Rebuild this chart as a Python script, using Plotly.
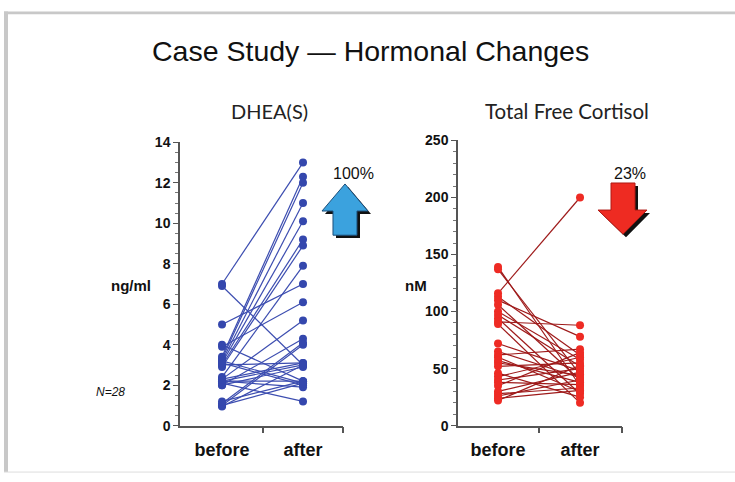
import plotly.graph_objects as go

# ---------------- data ----------------
categories = ["before", "after"]

dhea_before = [7.0, 6.9, 5.0, 4.0, 3.9, 3.4, 3.3, 3.2, 3.1, 3.0, 3.0, 2.9, 3.2, 3.1,
               2.4, 2.3, 2.2, 2.2, 2.1, 2.0, 2.2, 2.0, 2.3, 1.1, 1.0, 1.0, 0.95, 1.2]
dhea_after = [13.0, 3.0, 7.0, 2.2, 6.1, 12.3, 12.0, 11.0, 10.1, 9.2, 3.1, 8.9, 2.1, 2.0,
              7.9, 5.2, 3.0, 2.2, 1.2, 4.3, 1.9, 2.9, 3.1, 4.1, 4.0, 2.1, 3.0, 2.2]

cort_before = [139, 137, 116, 113, 110, 106, 100, 97, 94, 91, 89, 72, 65, 62,
               60, 57, 55, 52, 46, 43, 40, 38, 35, 30, 28, 26, 24, 22]
cort_after = [35, 45, 200, 62, 78, 40, 58, 52, 28, 88, 20, 48, 42, 67,
              30, 38, 44, 55, 25, 60, 50, 36, 64, 47, 33, 40, 31, 53]

dhea_ticks = [0, 2, 4, 6, 8, 10, 12, 14]
cort_ticks = [0, 50, 100, 150, 200, 250]

W, H = 735, 482


def px(x):
    return x / W


def py(y):
    return 1 - y / H


fig = go.Figure()


def add_pairs(before, after, xa, ya, line_color, marker_color):
    xs, ys = [], []
    for b, a in zip(before, after):
        xs += [0, 1, None]
        ys += [b, a, None]
    fig.add_trace(go.Scatter(x=xs, y=ys, mode="lines",
                             line=dict(color=line_color, width=1.2),
                             xaxis=xa, yaxis=ya, hoverinfo="skip", showlegend=False))
    fig.add_trace(go.Scatter(x=[0] * len(before) + [1] * len(after), y=before + after,
                             mode="markers", marker=dict(color=marker_color, size=8),
                             xaxis=xa, yaxis=ya, showlegend=False))


add_pairs(dhea_before, dhea_after, "x", "y", "#3c4db0", "#3447ad")
add_pairs(cort_before, cort_after, "x2", "y2", "#9e1a1a", "#ee2b24")

axis_font = dict(family="Liberation Sans, Arial, sans-serif", size=14, color="#111")
cat_font = dict(family="Liberation Sans, Arial, sans-serif", size=18, color="#111")


def xaxis_cfg(domain, rng):
    return dict(domain=domain, range=rng, showgrid=False, zeroline=False,
                showline=True, linecolor="#555", linewidth=1.5,
                tickmode="array", tickvals=[0, 1], ticktext=["<b>%s</b>" % c for c in categories],
                ticks="", tickfont=cat_font, ticklabelstandoff=7,
                minor=dict(tickmode="array", tickvals=[0.5, rng[1]], ticks="outside",
                           ticklen=6, tickcolor="#555", tickwidth=1.5),
                fixedrange=True)


def yaxis_cfg(domain, rng, ticks, minor_dtick, anchor):
    return dict(domain=domain, range=rng, anchor=anchor, showgrid=False, zeroline=False,
                showline=True, linecolor="#555", linewidth=1.5,
                tickmode="array", tickvals=ticks, ticktext=["<b>%d</b>" % t for t in ticks],
                ticks="outside", ticklen=5, tickcolor="#555", tickwidth=1.3,
                tickfont=axis_font,
                minor=dict(dtick=minor_dtick, tick0=0, ticks="outside", ticklen=3,
                           tickcolor="#777", tickwidth=1),
                fixedrange=True)


fig.update_layout(
    width=W, height=H,
    margin=dict(l=0, r=0, t=0, b=0),
    paper_bgcolor="white", plot_bgcolor="white",
    showlegend=False,
    xaxis=xaxis_cfg([px(180), px(343)], [-0.519, 1.494]) | dict(anchor="y"),
    yaxis=yaxis_cfg([py(432), py(139)], [0, 14], dhea_ticks, 0.5, "x"),
    xaxis2=xaxis_cfg([px(458), px(622)], [-0.488, 1.512]) | dict(anchor="y2"),
    yaxis2=yaxis_cfg([py(432), py(137)], [0, 250], cort_ticks, 10, "x2"),
)

shapes = []
# frame
shapes.append(dict(type="rect", xref="paper", yref="paper", x0=px(4), x1=1, y0=py(6.5), y1=py(3.5),
                   fillcolor="#c8c8c8", line=dict(width=0), layer="below"))
shapes.append(dict(type="rect", xref="paper", yref="paper", x0=px(4), x1=px(8), y0=py(480), y1=py(3.5),
                   fillcolor="#c8c8c8", line=dict(width=0), layer="below"))
shapes.append(dict(type="line", xref="paper", yref="paper", x0=px(4), x1=1, y0=py(480), y1=py(480),
                   line=dict(color="#dddddd", width=1), layer="below"))


def path(pts, dx=0, dy=0):
    s = "M " + " L ".join("%f,%f" % (px(x + dx), py(y + dy)) for x, y in pts) + " Z"
    return s


up_arrow = [(345, 182), (368, 210), (357, 210), (357, 235), (333, 235), (333, 210), (322, 210)]
down_arrow = [(611, 181), (635, 181), (635, 209), (647, 209), (623, 234), (598, 209), (611, 209)]

shapes.append(dict(type="path", xref="paper", yref="paper", path=path(up_arrow, 3, 3),
                   fillcolor="#111", line=dict(width=0)))
shapes.append(dict(type="path", xref="paper", yref="paper", path=path(up_arrow),
                   fillcolor="#3ba2de", line=dict(color="#1d4f7a", width=1)))
shapes.append(dict(type="path", xref="paper", yref="paper", path=path(down_arrow, 3, 3),
                   fillcolor="#111", line=dict(width=0)))
shapes.append(dict(type="path", xref="paper", yref="paper", path=path(down_arrow),
                   fillcolor="#ee2b22", line=dict(color="#b01a14", width=1)))

fig.update_layout(shapes=shapes)

ann = []


def text(x, y, s, size, family="Liberation Sans, Arial, sans-serif", color="#111"):
    ann.append(dict(x=px(x), y=py(y), xref="paper", yref="paper", text=s, showarrow=False,
                    xanchor="center", yanchor="middle",
                    font=dict(family=family, size=size, color=color)))


text(370, 44, "Case Study — Hormonal Changes", 28.5)
text(269, 107, "DHEA(S)", 20, family="Lato, sans-serif", color="#222")
text(567, 107, "Total Free Cortisol", 20.5, family="Lato, sans-serif", color="#222")
text(131, 287, "<b>ng/ml</b>", 15)
text(416, 287, "<b>nM</b>", 15)
text(353, 171, "100%", 16)
text(630, 171, "23%", 16)
text(110, 397, "<i>N=28</i>", 12)

fig.update_layout(annotations=ann)

fig.write_html("out.html",
               config={"displayModeBar": False},
               post_script="document.body.style.margin='0';document.body.style.overflow='hidden';")
